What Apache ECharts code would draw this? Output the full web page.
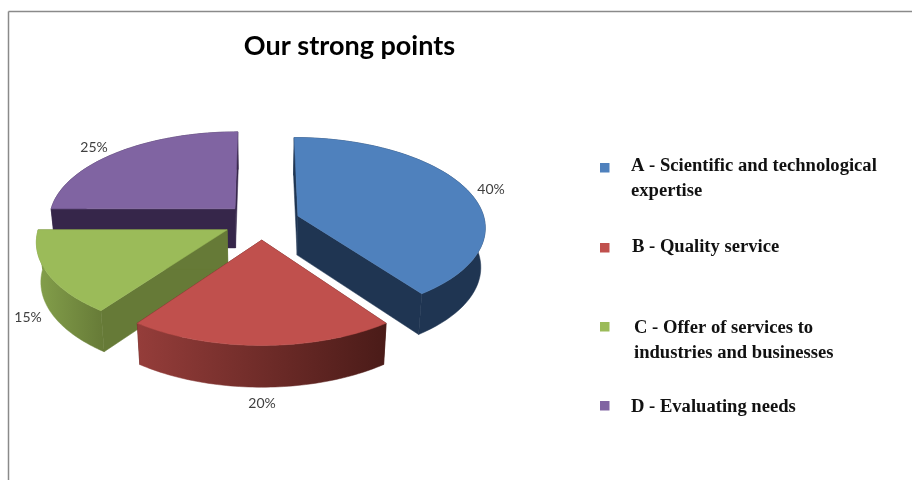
<!DOCTYPE html>
<html>
<head>
<meta charset="utf-8">
<style>
  html, body { margin: 0; padding: 0; background: #fff; }
  #chart { width: 912px; height: 480px; }
</style>
<script src="https://cdn.jsdelivr.net/npm/echarts@6/dist/echarts.min.js"></script>
</head>
<body>
<div id="chart"></div>
<script>
// values
var categories = ["A", "B", "C", "D"];
var shares = [40, 20, 15, 25];
var legendLines = [
    ["A - Scientific and technological", "expertise"],
    ["B - Quality service"],
    ["C - Offer of services to", "industries and businesses"],
    ["D - Evaluating needs"]
];

// look of each slice
var topColors = ["#4F81BD", "#C0504D", "#9BBB59", "#8064A2"];
var cutColors = ["#1F3552", "#4A1B18", "#667A37", "#36264A"];
var wallColors = [
    ["#1F3552", "#1F3552"],
    ["#953D3A", "#4A1B18"],
    ["#84A04B", "#667A37"],
    ["#36264A", "#36264A"]
];
var drawOrder = [1, 3, 2, 0];   // paint order per slice, back to front
var labelAt = [[491, 189], [262, 403], [28, 317], [94, 147]];

// fake 3D projection, fitted to the picture
var cx = 261.7, cy = 221.5, rx = 187, ry = 88.6;
var persp = 0.115, explode = 0.205;
var depth = 39.3, bottomX = 0.98, bottomY = 1.02;

function project(wx, wy, bottom) {
    var s = 1 / (1 - persp * wy);
    var x = rx * wx * s, y = ry * wy * s;
    if (bottom) {
        return [cx + x * bottomX, cy + depth + y * bottomY];
    }
    return [cx + x, cy + y];
}

function renderSlice(params, api) {
    var i = params.dataIndex;
    var total = 0, before = 0;
    shares.forEach(function(v, k) {
        total += v;
        if (k < i) before += v;
    });
    var t0 = before / total * Math.PI * 2;
    var t1 = (before + api.value(0)) / total * Math.PI * 2;
    var mid = (t0 + t1) / 2;
    var ox = explode * Math.sin(mid), oy = -explode * Math.cos(mid);

    function rim(t, bottom) {
        return project(ox + Math.sin(t), oy - Math.cos(t), bottom);
    }
    var steps = 60, topRim = [], lowRim = [];
    for (var n = 0; n <= steps; n++) {
        var t = t0 + (t1 - t0) * n / steps;
        topRim.push(rim(t, false));
        lowRim.push(rim(t, true));
    }
    var apex = project(ox, oy, false), lowApex = project(ox, oy, true);
    var base = drawOrder[i] * 10;

    function poly(points, fill, z) {
        return {
            type: "polygon",
            z2: base + z,
            shape: { points: points },
            style: { fill: fill, stroke: fill, lineWidth: 0.5 }
        };
    }
    var wallFill = new echarts.graphic.LinearGradient(0, 0, 1, 0, [
        { offset: 0, color: wallColors[i][0] },
        { offset: 1, color: wallColors[i][1] }
    ]);
    return {
        type: "group",
        children: [
            poly([apex, topRim[0], lowRim[0], lowApex], cutColors[i], 0),
            poly([apex, topRim[steps], lowRim[steps], lowApex], cutColors[i], 1),
            poly(topRim.concat(lowRim.slice().reverse()), wallFill, 2),
            poly([apex].concat(topRim), topColors[i], 3),
            {
                type: "text",
                z2: 100,
                style: {
                    x: labelAt[i][0],
                    y: labelAt[i][1],
                    text: api.value(0) + "%",
                    fill: "#404040",
                    font: "14px Lato",
                    align: "center",
                    verticalAlign: "middle"
                }
            }
        ]
    };
}

// legend rows sit unevenly in the original, so place them by hand
var legendMarkY = [163, 243, 322, 401];
var legendTextX = [631, 632, 634, 631];
var legendTextY = [166, 247, 328, 407];

function legendGraphics() {
    var out = [];
    legendLines.forEach(function(lines, i) {
        out.push({
            type: "rect",
            shape: { x: 600, y: legendMarkY[i], width: 9.5, height: 9.5 },
            style: { fill: topColors[i] }
        });
        lines.forEach(function(line, j) {
            out.push({
                type: "text",
                style: {
                    x: legendTextX[i],
                    y: legendTextY[i] + j * 25,
                    text: line,
                    fill: "#111",
                    font: "bold 18.6px 'Liberation Serif'",
                    verticalAlign: "middle"
                }
            });
        });
    });
    return out;
}

var chart = echarts.init(document.getElementById("chart"), null, { renderer: "canvas" });
chart.setOption({
    animation: false,
    backgroundColor: "#fff",
    title: {
        text: "Our strong points",
        left: 344.5,
        top: 28,
        textAlign: "center",
        textStyle: { fontFamily: "Lato", fontWeight: "bold", fontSize: 27, color: "#000" }
    },
    graphic: [
        { type: "line", shape: { x1: 8.5, y1: 11.5, x2: 912, y2: 11.5 }, style: { stroke: "#8a8a8a", lineWidth: 1.5 } },
        { type: "line", shape: { x1: 8.5, y1: 11.5, x2: 8.5, y2: 480 }, style: { stroke: "#8a8a8a", lineWidth: 1.5 } }
    ].concat(legendGraphics()),
    series: [{
        type: "custom",
        coordinateSystem: "none",
        renderItem: renderSlice,
        data: shares.map(function(v, i) { return { name: categories[i], value: [v] }; })
    }]
});
</script>
</body>
</html>
